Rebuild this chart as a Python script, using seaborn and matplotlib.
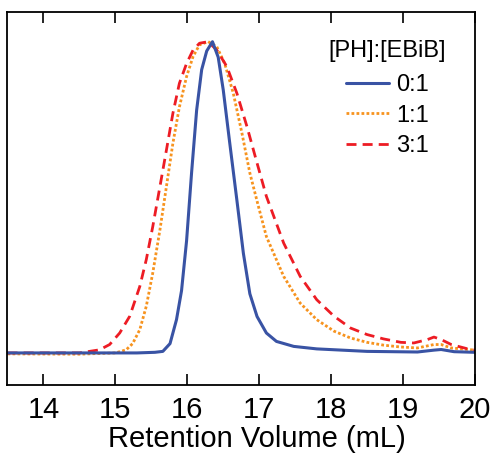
import matplotlib
matplotlib.use("Agg")
import matplotlib.pyplot as plt
import numpy as np
import pandas as pd
import seaborn as sns

sns.set_style("ticks")
plt.rcParams["font.family"] = ["Liberation Sans", "DejaVu Sans"]
plt.rcParams["text.color"] = "black"
plt.rcParams["axes.labelcolor"] = "black"
plt.rcParams["xtick.color"] = "black"

# retention volume (mL) and normalised RI signal
vol_01 = [13.5, 14.5, 15.3, 15.55, 15.66, 15.76, 15.85, 15.92, 15.99, 16.06, 16.13, 16.2,
          16.27, 16.35, 16.43, 16.5, 16.59, 16.69, 16.78, 16.87, 16.97, 17.1, 17.24,
          17.48, 17.8, 18.5, 19.2, 19.43, 19.53, 19.71, 20.0]
sig_01 = [0.0, 0.0, 0.0, 0.002, 0.005, 0.03, 0.107, 0.2, 0.36, 0.58, 0.78, 0.91,
          0.97, 1.0, 0.95, 0.845, 0.675, 0.49, 0.32, 0.19, 0.117, 0.064, 0.037,
          0.021, 0.013, 0.005, 0.003, 0.009, 0.011, 0.004, 0.002]

vol_11 = [13.5, 14.5, 15.0, 15.15, 15.24, 15.34, 15.43, 15.52, 15.62, 15.71, 15.8, 15.89,
          15.99, 16.08, 16.17, 16.29, 16.41, 16.52, 16.64, 16.76, 16.87, 16.99, 17.1,
          17.34, 17.57, 17.8, 18.04, 18.27, 18.5, 18.73, 18.97, 19.2, 19.43, 19.53,
          19.67, 20.0]
sig_11 = [-0.003, -0.004, 0.0, 0.01, 0.03, 0.075, 0.15, 0.257, 0.396, 0.535, 0.674, 0.79,
          0.888, 0.952, 0.99, 1.0, 0.984, 0.93, 0.834, 0.706, 0.578, 0.47, 0.374,
          0.246, 0.16, 0.107, 0.07, 0.048, 0.034, 0.025, 0.019, 0.016, 0.027, 0.027,
          0.016, 0.009]

vol_31 = [13.5, 14.5, 14.64, 14.78, 14.92, 15.06, 15.2, 15.34, 15.43, 15.52, 15.62, 15.71,
          15.8, 15.89, 15.99, 16.08, 16.17, 16.29, 16.41, 16.55, 16.69, 16.83, 16.97,
          17.1, 17.34, 17.57, 17.8, 18.04, 18.27, 18.5, 18.73, 18.97, 19.15, 19.34,
          19.43, 19.53, 19.67, 19.9, 20.0]
sig_31 = [0.0, 0.0, 0.005, 0.01, 0.027, 0.064, 0.118, 0.214, 0.3, 0.406, 0.535, 0.652,
          0.77, 0.866, 0.93, 0.973, 0.995, 1.0, 0.973, 0.92, 0.834, 0.727, 0.61,
          0.503, 0.353, 0.246, 0.171, 0.118, 0.08, 0.059, 0.045, 0.034, 0.032, 0.043,
          0.051, 0.043, 0.027, 0.013, 0.009]

x_ticks = [14, 15, 16, 17, 18, 19, 20]

fig = plt.figure(figsize=(4.9, 4.54), dpi=100)
ax = fig.add_axes([0.0153, 0.152, 0.954, 0.822])

sns.lineplot(x=vol_11, y=sig_11, ax=ax, color="#F7931E", lw=2.0,
             linestyle=(0, (1.0, 0.8)), label="1:1", sort=False)
sns.lineplot(x=vol_31, y=sig_31, ax=ax, color="#ED1C24", lw=2.0,
             linestyle=(0, (3.6, 2.2)), label="3:1", sort=False)
sns.lineplot(x=vol_01, y=sig_01, ax=ax, color="#3953A4", lw=2.2,
             label="0:1", sort=False)

ax.set_xlim(13.5, 20)
ax.set_ylim(-0.103, 1.096)
ax.set_xticks(x_ticks)
ax.set_yticks([])
ax.tick_params(axis="x", direction="in", top=True, length=8, width=1.2,
               labelsize=21, pad=8, colors="black")
ax.set_xlabel("Retention Volume (mL)", fontsize=21)
ax.xaxis.set_label_coords(0.534, -0.108)
ax.set_ylabel("")
for sp in ax.spines.values():
    sp.set_linewidth(1.3)
    sp.set_color("black")

handles, labels = ax.get_legend_handles_labels()
order = [labels.index(l) for l in ["0:1", "1:1", "3:1"]]
leg = ax.legend([handles[i] for i in order], [labels[i] for i in order],
                title="[PH]:[EBiB]", loc="upper left", bbox_to_anchor=(0.642, 0.982),
                frameon=False, fontsize=17, title_fontsize=17,
                handlelength=1.8, handletextpad=0.3, labelspacing=0.35)
# a little more room between the title and the entries
leg._legend_box.sep = 0.35 * 17 + 3.2

fig.savefig("out.png", dpi=100)
